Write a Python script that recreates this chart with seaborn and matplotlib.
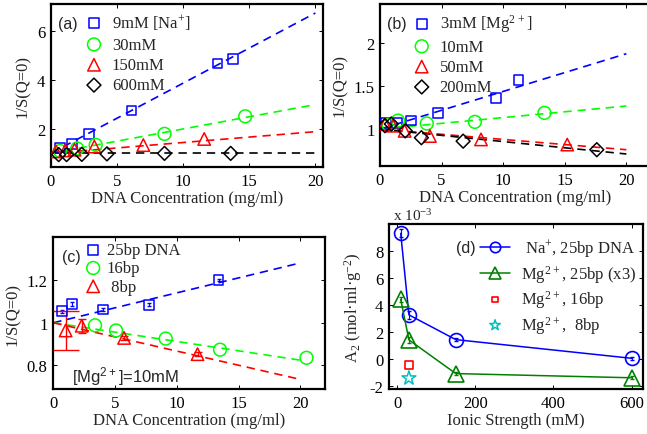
import numpy as np
import pandas as pd
import seaborn as sns
import matplotlib.pyplot as plt

sns.set_style('ticks')
plt.rcParams['font.family'] = ['Liberation Serif', 'DejaVu Serif']
plt.rcParams['mathtext.fontset'] = 'custom'
plt.rcParams['mathtext.rm'] = 'Liberation Serif'
plt.rcParams['axes.unicode_minus'] = False

# fit lines all span 0..20 mg/ml
fit_x = [0, 20]

# (a) Na+ series
a_9_x = [0.7, 1.6, 2.9, 6.1, 12.6, 13.8]
a_9_y = [1.24, 1.38, 1.8, 2.76, 4.68, 4.88]
a_30_x = [0.7, 2.0, 3.4, 8.6, 14.7]
a_30_y = [1.1, 1.2, 1.35, 1.8, 2.52]
a_150_x = [0.4, 1.1, 1.8, 3.3, 7.0, 11.6]
a_150_y = [1.08, 1.12, 1.15, 1.28, 1.34, 1.59]
a_600_x = [0.6, 1.2, 2.35, 4.25, 8.6, 13.6]
a_600_y = [0.95, 0.95, 0.96, 0.98, 1.0, 1.0]
a_fit = {'b': [1.0, 6.75], 'g': [1.0, 3.0], 'r': [1.0, 1.89], 'k': [1.0, 1.0]}

# (b) Mg2+ series
b_3_x = [0.5, 1.4, 2.5, 4.7, 9.4, 11.25]
b_3_y = [1.07, 1.07, 1.1, 1.19, 1.36, 1.57]
b_10_x = [0.7, 1.46, 3.8, 7.7, 13.35]
b_10_y = [1.05, 1.1, 1.066, 1.085, 1.19]
b_50_x = [0.4, 1.05, 2.0, 4.05, 8.2, 15.2]
b_50_y = [1.06, 1.04, 0.98, 0.92, 0.88, 0.82]
b_200_x = [0.4, 0.92, 2.05, 3.36, 6.75, 17.6]
b_200_y = [1.04, 1.06, 0.98, 0.9, 0.86, 0.76]
b_fit = {'b': [1.0, 1.88], 'g': [1.0, 1.27], 'r': [1.0, 0.76], 'k': [1.0, 0.71]}

# (c) length series at 10mM Mg2+
c_25_x = [0.73, 1.49, 4.0, 7.76, 13.38]
c_25_y = [1.054, 1.088, 1.062, 1.085, 1.2]
c_25_e = [0.008, 0.008, 0.006, 0.006, 0.005]
c_16_x = [3.38, 5.08, 9.1, 13.5, 20.5]
c_16_y = [0.988, 0.964, 0.926, 0.874, 0.836]
c_8_x = [1.0, 2.3, 5.73, 11.68]
c_8_y = [0.964, 0.986, 0.929, 0.853]
c_8_e = [0.093, 0.033, 0.01, 0.01]
c_8_cap = [9.5, 3.2, 3.2, 3.2]
c_fit = {'b': [1.0, 1.28], 'g': [1.0, 0.825], 'r': [1.0, 0.735]}

# (d) A2 vs ionic strength (x 10^-3)
d_na_x = [9, 30, 150, 600]
d_na_y = [9.31, 3.28, 1.45, 0.07]
d_na_e = [0.3, 0.3, 0.1, 0.1]
d_mg_x = [9, 30, 150, 600]
d_mg_y = [4.43, 1.43, -1.06, -1.37]
d_mg_e = [0.2, 0.2, 0.1, 0.1]
d_16_x = [30]
d_16_y = [-0.42]
d_8_x = [30]
d_8_y = [-1.4]

GREEN = (0, 1, 0)
DGREEN = (0, 0.5, 0)
CYAN = (0, 0.75, 0.75)
DASH = (0, (5, 3.5))
FS = 12

W, H = 647, 435
fig = plt.figure(figsize=(W / 100, H / 100), dpi=100)


def box(l, r, t, b):
    return fig.add_axes([l / W, 1 - b / H, (r - l) / W, (b - t) / H])


ax_a = box(50.7, 323.3, 5, 168.3)
ax_b = box(380, 651, 5, 167)
ax_c = box(53.3, 325, 238.3, 390)
ax_d = box(389, 643.3, 225, 390)


def pts(ax, x, y, color, marker, s, label=None, lw=1.1):
    sns.scatterplot(x=x, y=y, ax=ax, marker=marker, s=s, facecolors='none',
                    edgecolor=color, linewidth=lw, label=label, legend=False, zorder=3)


def fit(ax, yy, color):
    sns.lineplot(x=fit_x, y=yy, ax=ax, color=color, linestyle=DASH, linewidth=1.2,
                 legend=False, zorder=2)


def style(ax):
    for sp in ax.spines.values():
        sp.set_linewidth(1.6)
        sp.set_color('k')
    ax.tick_params(direction='in', top=True, right=True, length=3, width=0.7,
                   labelsize=FS, pad=4, colors='k')
    ax.yaxis.set_major_formatter(plt.FormatStrFormatter('%g'))
    ax.set_xlabel('DNA Concentration (mg/ml)', fontsize=FS, labelpad=1)
    ax.set_ylabel('1/S(Q=0)', fontsize=FS, labelpad=4)


def leg(ax, x, y, spacing, pad=0.48):
    ax.legend(loc='upper left', bbox_to_anchor=(x, y), frameon=False, fontsize=FS,
              borderpad=0, borderaxespad=0, handlelength=1.2, handletextpad=pad,
              labelspacing=spacing, scatterpoints=1)


# ---- (a)
for c, yy in a_fit.items():
    fit(ax_a, yy, GREEN if c == 'g' else c)
pts(ax_a, a_9_x, a_9_y, 'b', 's', 50, '9mM [Na$\\mathregular{^{+}}$]')
pts(ax_a, a_30_x, a_30_y, GREEN, 'o', 85, '30mM')
pts(ax_a, a_150_x, a_150_y, 'r', '^', 80, '150mM')
pts(ax_a, a_600_x, a_600_y, 'k', 'D', 50, '600mM')
ax_a.set_xlim(0, 20.6)
ax_a.set_ylim(0.43, 7.12)
ax_a.set_xticks([0, 5, 10, 15, 20])
ax_a.set_yticks([2, 4, 6])
style(ax_a)
leg(ax_a, 0.122, 0.948, 0.26)
ax_a.text(0.028, 0.878, '(a)', transform=ax_a.transAxes, family='Liberation Sans',
          fontsize=11.5, va='center')

# ---- (b)
for c, yy in b_fit.items():
    fit(ax_b, yy, GREEN if c == 'g' else c)
pts(ax_b, b_3_x, b_3_y, 'b', 's', 50, '3mM [Mg$\\mathregular{^{2+}}$]')
pts(ax_b, b_10_x, b_10_y, GREEN, 'o', 85, '10mM')
pts(ax_b, b_50_x, b_50_y, 'r', '^', 80, '50mM')
pts(ax_b, b_200_x, b_200_y, 'k', 'D', 50, '200mM')
ax_b.set_xlim(0, 22)
ax_b.set_ylim(0.57, 2.46)
ax_b.set_xticks([0, 5, 10, 15, 20])
ax_b.set_yticks([1, 1.5, 2])
style(ax_b)
leg(ax_b, 0.117, 0.948, 0.26)
ax_b.text(0.025, 0.877, '(b)', transform=ax_b.transAxes, family='Liberation Sans',
          fontsize=11.5, va='center')

# ---- (c)
for c, yy in c_fit.items():
    fit(ax_c, yy, GREEN if c == 'g' else c)
ax_c.errorbar(c_25_x, c_25_y, yerr=c_25_e, fmt='none', ecolor='b', elinewidth=0.8,
              capsize=1.5, zorder=3)
for xx, yy, ee, cap in zip(c_8_x, c_8_y, c_8_e, c_8_cap):
    ax_c.errorbar([xx], [yy], yerr=[ee], fmt='none', ecolor='r', elinewidth=1.0,
                  capsize=cap, capthick=1.0, zorder=3)
pts(ax_c, c_25_x, c_25_y, 'b', 's', 50, '25bp DNA')
pts(ax_c, c_16_x, c_16_y, GREEN, 'o', 85, '16bp')
pts(ax_c, c_8_x, c_8_y, 'r', '^', 80, ' 8bp')
ax_c.set_xlim(0, 22)
ax_c.set_ylim(0.69, 1.4)
ax_c.set_xticks([0, 5, 10, 15, 20])
ax_c.set_yticks([0.8, 1, 1.2])
style(ax_c)
leg(ax_c, 0.11, 0.969, 0.14, pad=0.2)
ax_c.text(0.031, 0.872, '(c)', transform=ax_c.transAxes, family='Liberation Sans',
          fontsize=11.5, va='center')
ax_c.text(0.069, 0.086, '[Mg$\\mathregular{^{2+}}$]=10mM', transform=ax_c.transAxes,
          family='Liberation Sans', fontsize=12, va='center')

# ---- (d)
ax_d.errorbar(d_na_x, d_na_y, yerr=d_na_e, fmt='none', ecolor='b', elinewidth=0.8,
              capsize=1.5, zorder=3)
ax_d.errorbar(d_mg_x, d_mg_y, yerr=d_mg_e, fmt='none', ecolor=DGREEN, elinewidth=0.8,
              capsize=1.5, zorder=3)
sns.lineplot(x=d_na_x, y=d_na_y, ax=ax_d, color='b', linewidth=1.1, marker='o',
             markersize=10, markerfacecolor='none', markeredgecolor='b',
             markeredgewidth=1.2, sort=False, estimator=None, legend=False,
             label=' Na$\\mathregular{^{+}}$, 25bp DNA')
sns.lineplot(x=d_mg_x, y=d_mg_y, ax=ax_d, color=DGREEN, linewidth=1.1, marker='^',
             markersize=11, markerfacecolor='none', markeredgecolor=DGREEN,
             markeredgewidth=1.2, sort=False, estimator=None, legend=False,
             label='Mg$\\mathregular{^{2+}}$, 25bp (x3)')
pts(ax_d, d_16_x, d_16_y, 'r', 's', 30, 'Mg$\\mathregular{^{2+}}$, 16bp', lw=1.2)
pts(ax_d, d_8_x, d_8_y, CYAN, '*', 110, 'Mg$\\mathregular{^{2+}}$,  8bp', lw=1.1)
ax_d.set_xlim(-21, 630)
ax_d.set_ylim(-2.2, 10)
ax_d.set_xticks([0, 200, 400, 600])
ax_d.set_yticks([-2, 0, 2, 4, 6, 8])
style(ax_d)
ax_d.set_xlabel('Ionic Strength (mM)', fontsize=FS, labelpad=1)
ax_d.set_ylabel('A$\\mathregular{_{2}}$ (mol·ml·g$\\mathregular{^{-2}}$)', fontsize=FS,
                labelpad=4)
ax_d.legend(loc='upper left', bbox_to_anchor=(0.358, 0.92), frameon=False,
            fontsize=FS, borderpad=0, borderaxespad=0, handlelength=1.8,
            handletextpad=0.65, labelspacing=0.22, scatterpoints=1, markerscale=0.75)
ax_d.text(0.263, 0.86, '(d)', transform=ax_d.transAxes, family='Liberation Sans',
          fontsize=11.5, va='center')
ax_d.text(0.016, 1.005, 'x 10$\\mathregular{^{-3}}$', transform=ax_d.transAxes,
          fontsize=11, va='bottom')

fig.savefig('out.png', dpi=100)
